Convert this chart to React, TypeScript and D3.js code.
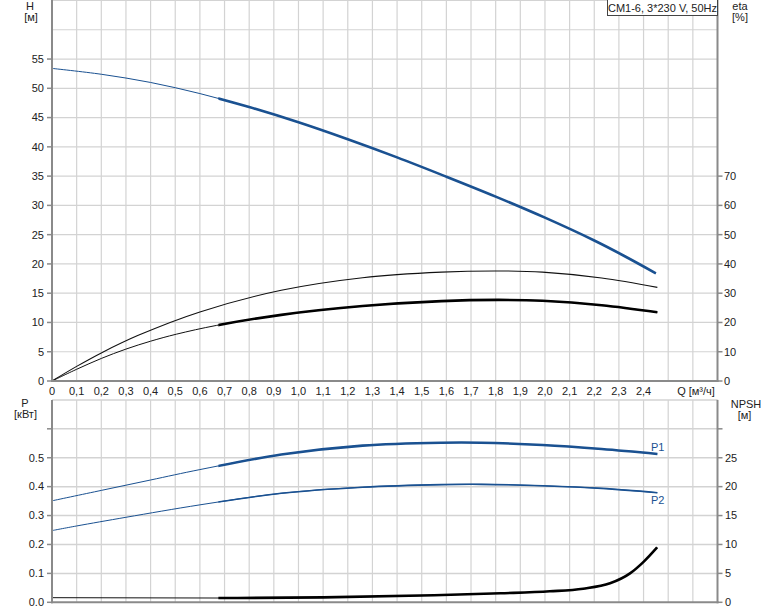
import React from "react";
import * as d3 from "d3";

// ---------- data ----------
const qTicks = d3.range(0, 25).map((i) => i / 10);
const hTicks = [0, 5, 10, 15, 20, 25, 30, 35, 40, 45, 50, 55];
const etaTicks = [0, 10, 20, 30, 40, 50, 60, 70];
const pTicks = [0, 0.1, 0.2, 0.3, 0.4, 0.5];
const npshTicks = [0, 5, 10, 15, 20, 25];

const qHead = [0, 0.2, 0.4, 0.6, 0.8, 1.0, 1.2, 1.4, 1.6, 1.8, 2.0, 2.2, 2.32, 2.45];
const head = [53.4, 52.4, 51.0, 49.1, 46.8, 44.2, 41.3, 38.2, 34.9, 31.5, 27.9, 24.0, 21.4, 18.4];

const qEtaPump = [0, 0.1, 0.2, 0.35, 0.6, 0.93, 1.26, 1.58, 1.81, 1.99, 2.23, 2.456];
const etaPump = [0, 5.0, 9.6, 15.6, 23.6, 31.0, 35.3, 37.2, 37.6, 37.2, 35.2, 32.0];

const qEtaTotal = [0, 0.1, 0.2, 0.3, 0.4, 0.505, 0.668, 0.93, 1.26, 1.58, 1.81, 1.99, 2.23, 2.456];
const etaTotal = [0, 4.0, 7.7, 10.9, 13.6, 16.0, 19.0, 22.6, 25.6, 27.3, 27.7, 27.4, 25.9, 23.5];

const qP1 = [0, 0.2, 0.4, 0.6, 0.93, 1.26, 1.58, 1.74, 1.99, 2.23, 2.456];
const p1 = [0.351, 0.387, 0.423, 0.459, 0.511, 0.542, 0.552, 0.552, 0.544, 0.53, 0.513];

const qP2 = [0, 0.1, 0.3, 0.6, 0.93, 1.26, 1.58, 1.74, 1.99, 2.23, 2.456];
const p2 = [0.248, 0.264, 0.294, 0.337, 0.377, 0.398, 0.407, 0.408, 0.403, 0.394, 0.379];

const qNpsh = [0, 0.68, 1.1, 1.55, 1.82, 2.02, 2.155, 2.264, 2.345, 2.4, 2.455];
const npsh = [0.8, 0.74, 0.86, 1.21, 1.56, 1.9, 2.35, 3.28, 5.0, 7.0, 9.5];

const qOperateStart = 0.675;
const title = "CM1-6, 3*230 V, 50Hz";

// ---------- layout ----------
const W = 774;
const HT = 611;
const X0 = 52;
const X1 = 717.5;
const TOP_Y0 = 381;
const TOP_Y1 = 0.5;
const BOT_Y0 = 602.3;
const BOT_Y1 = 399.9;

const FONT = "'Liberation Sans', Arial, sans-serif";
const BLUE = "#1a5191";
const GRID = "#d3d3d3";
const AXIS = "#8a8a8a";
const TXT = "#222";

const fmtQ = (v: number) => (v === 0 ? "0" : v.toFixed(1).replace(".", ","));

export default function App() {
  const x = d3.scaleLinear().domain([0, 2.7]).range([X0, X1]);
  const yH = d3.scaleLinear().domain([0, 65]).range([TOP_Y0, TOP_Y1]);
  const yEta = d3.scaleLinear().domain([0, 130]).range([TOP_Y0, TOP_Y1]);
  const yP = d3.scaleLinear().domain([0, 0.7]).range([BOT_Y0, BOT_Y1]);
  const yN = d3.scaleLinear().domain([0, 35]).range([BOT_Y0, BOT_Y1]);

  const mk = (
    qs: number[],
    vs: number[],
    ys: d3.ScaleLinear<number, number>,
    curve: d3.CurveFactory = d3.curveCatmullRom.alpha(0.5)
  ) =>
    d3
      .line<number>()
      .x((_, i) => x(qs[i]))
      .y((v) => ys(v))
      .curve(curve)(vs) as string;

  const hPath = mk(qHead, head, yH);
  const e1Path = mk(qEtaPump, etaPump, yEta);
  const e2Path = mk(qEtaTotal, etaTotal, yEta);
  const p1Path = mk(qP1, p1, yP);
  const p2Path = mk(qP2, p2, yP);
  const nPath = mk(qNpsh, npsh, yN, d3.curveMonotoneX);

  const vGrid = d3.range(1, 27).map((i) => i / 10);
  const hGridTop = d3.range(1, 14).map((i) => i * 5);
  const hGridBot = d3.range(1, 8).map((i) => i / 10);
  const xs = x(qOperateStart);

  return (
    <svg
      width={W}
      height={HT}
      style={{ position: "absolute", left: 0, top: 0, background: "#fff" }}
      fontFamily={FONT}
    >
      <defs>
        <clipPath id="opTop">
          <rect x={xs} y={0} width={W - xs} height={TOP_Y0 + 5} />
        </clipPath>
        <clipPath id="opBot">
          <rect x={xs} y={BOT_Y1 - 5} width={W - xs} height={BOT_Y0 - BOT_Y1 + 10} />
        </clipPath>
      </defs>

      {/* grid top */}
      {vGrid.map((q) => (
        <line key={"vt" + q} x1={x(q)} x2={x(q)} y1={TOP_Y1} y2={TOP_Y0} stroke={GRID} strokeWidth={1.2} />
      ))}
      {hGridTop.map((h) => (
        <line key={"ht" + h} x1={X0} x2={X1} y1={yH(h)} y2={yH(h)} stroke={GRID} strokeWidth={1.2} />
      ))}
      {/* grid bottom */}
      {vGrid.map((q) => (
        <line key={"vb" + q} x1={x(q)} x2={x(q)} y1={BOT_Y1} y2={BOT_Y0} stroke={GRID} strokeWidth={1.2} />
      ))}
      {hGridBot.map((p) => (
        <line key={"hb" + p} x1={X0} x2={X1} y1={yP(p)} y2={yP(p)} stroke={GRID} strokeWidth={1.5} />
      ))}

      {/* curves top */}
      <path d={hPath} fill="none" stroke={BLUE} strokeWidth={1} />
      <path d={hPath} fill="none" stroke={BLUE} strokeWidth={2.6} clipPath="url(#opTop)" />
      <path d={e1Path} fill="none" stroke="#111" strokeWidth={1.1} />
      <path d={e2Path} fill="none" stroke="#111" strokeWidth={1} />
      <path d={e2Path} fill="none" stroke="#000" strokeWidth={2.6} clipPath="url(#opTop)" />

      {/* curves bottom */}
      <path d={p1Path} fill="none" stroke={BLUE} strokeWidth={1} />
      <path d={p1Path} fill="none" stroke={BLUE} strokeWidth={2.6} clipPath="url(#opBot)" />
      <path d={p2Path} fill="none" stroke={BLUE} strokeWidth={1} />
      <path d={p2Path} fill="none" stroke={BLUE} strokeWidth={1.6} clipPath="url(#opBot)" />
      <path d={nPath} fill="none" stroke="#111" strokeWidth={1} />
      <path d={nPath} fill="none" stroke="#000" strokeWidth={2.6} clipPath="url(#opBot)" />

      <text x={651} y={451} fontSize={11} fill={BLUE}>P1</text>
      <text x={651} y={504} fontSize={11} fill={BLUE}>P2</text>

      {/* axes top */}
      <line x1={X0} x2={X0} y1={0} y2={TOP_Y0 + 1} stroke={AXIS} strokeWidth={2} />
      <line x1={X1} x2={X1} y1={0} y2={TOP_Y0 + 1} stroke={AXIS} strokeWidth={2} />
      <line x1={X0 - 1} x2={X1 + 1} y1={TOP_Y0} y2={TOP_Y0} stroke={AXIS} strokeWidth={2} />
      {/* axes bottom */}
      <line x1={X0} x2={X0} y1={BOT_Y1} y2={BOT_Y0 + 1} stroke={AXIS} strokeWidth={2} />
      <line x1={X1} x2={X1} y1={BOT_Y1} y2={BOT_Y0 + 1} stroke={AXIS} strokeWidth={2} />
      <line x1={X0 - 1} x2={X1 + 1} y1={BOT_Y0} y2={BOT_Y0} stroke={AXIS} strokeWidth={2} />

      {/* H ticks */}
      {hTicks.map((h) => (
        <g key={"hl" + h}>
          <line x1={X0 - 5} x2={X0} y1={yH(h)} y2={yH(h)} stroke={AXIS} strokeWidth={1.5} />
          <text x={44} y={yH(h)} dy="0.35em" textAnchor="end" fontSize={11} fill={TXT}>{h}</text>
        </g>
      ))}
      {etaTicks.map((e) => (
        <g key={"el" + e}>
          <line x1={X1} x2={X1 + 5} y1={yEta(e)} y2={yEta(e)} stroke={AXIS} strokeWidth={1.5} />
          <text x={724} y={yEta(e)} dy="0.35em" textAnchor="start" fontSize={11} fill={TXT}>{e}</text>
        </g>
      ))}
      {pTicks.map((p) => (
        <g key={"pl" + p}>
          <line x1={X0 - 5} x2={X0} y1={yP(p)} y2={yP(p)} stroke={AXIS} strokeWidth={1.5} />
          <text x={44} y={yP(p)} dy="0.35em" textAnchor="end" fontSize={11} fill={TXT}>{p.toFixed(1)}</text>
        </g>
      ))}
      <line x1={X0 - 5} x2={X0} y1={yP(0.6)} y2={yP(0.6)} stroke={AXIS} strokeWidth={1.5} />
      {npshTicks.map((n) => (
        <g key={"nl" + n}>
          <line x1={X1} x2={X1 + 5} y1={yN(n)} y2={yN(n)} stroke={AXIS} strokeWidth={1.5} />
          <text x={725} y={yN(n)} dy="0.35em" textAnchor="start" fontSize={11} fill={TXT}>{n}</text>
        </g>
      ))}
      <line x1={X1} x2={X1 + 5} y1={yN(30)} y2={yN(30)} stroke={AXIS} strokeWidth={1.5} />

      {/* Q labels */}
      {qTicks.map((q) => (
        <text key={"ql" + q} x={x(q)} y={395} textAnchor="middle" fontSize={11} fill={TXT}>{fmtQ(q)}</text>
      ))}
      <text x={696} y={395} textAnchor="middle" fontSize={11} fill={TXT}>Q [м³/ч]</text>

      {/* axis titles */}
      <text x={30} y={10} textAnchor="middle" fontSize={11} fill={TXT}>H</text>
      <text x={31} y={21} textAnchor="middle" fontSize={11} fill={TXT}>[м]</text>
      <text x={740} y={10} textAnchor="middle" fontSize={11} fill={TXT}>eta</text>
      <text x={740} y={21} textAnchor="middle" fontSize={11} fill={TXT}>[%]</text>
      <text x={25} y={407} textAnchor="middle" fontSize={11} fill={TXT}>P</text>
      <text x={25.5} y={418} textAnchor="middle" fontSize={11} fill={TXT}>[кВт]</text>
      <text x={746} y={408} textAnchor="middle" fontSize={11} fill={TXT}>NPSH</text>
      <text x={744.5} y={419} textAnchor="middle" fontSize={11} fill={TXT}>[м]</text>

      {/* title box */}
      <rect x={607.5} y={-1} width={110} height={16.5} fill="#fff" stroke="#444" strokeWidth={1} />
      <text x={662.5} y={11.5} textAnchor="middle" fontSize={11} fill={TXT}>{title}</text>
    </svg>
  );
}
